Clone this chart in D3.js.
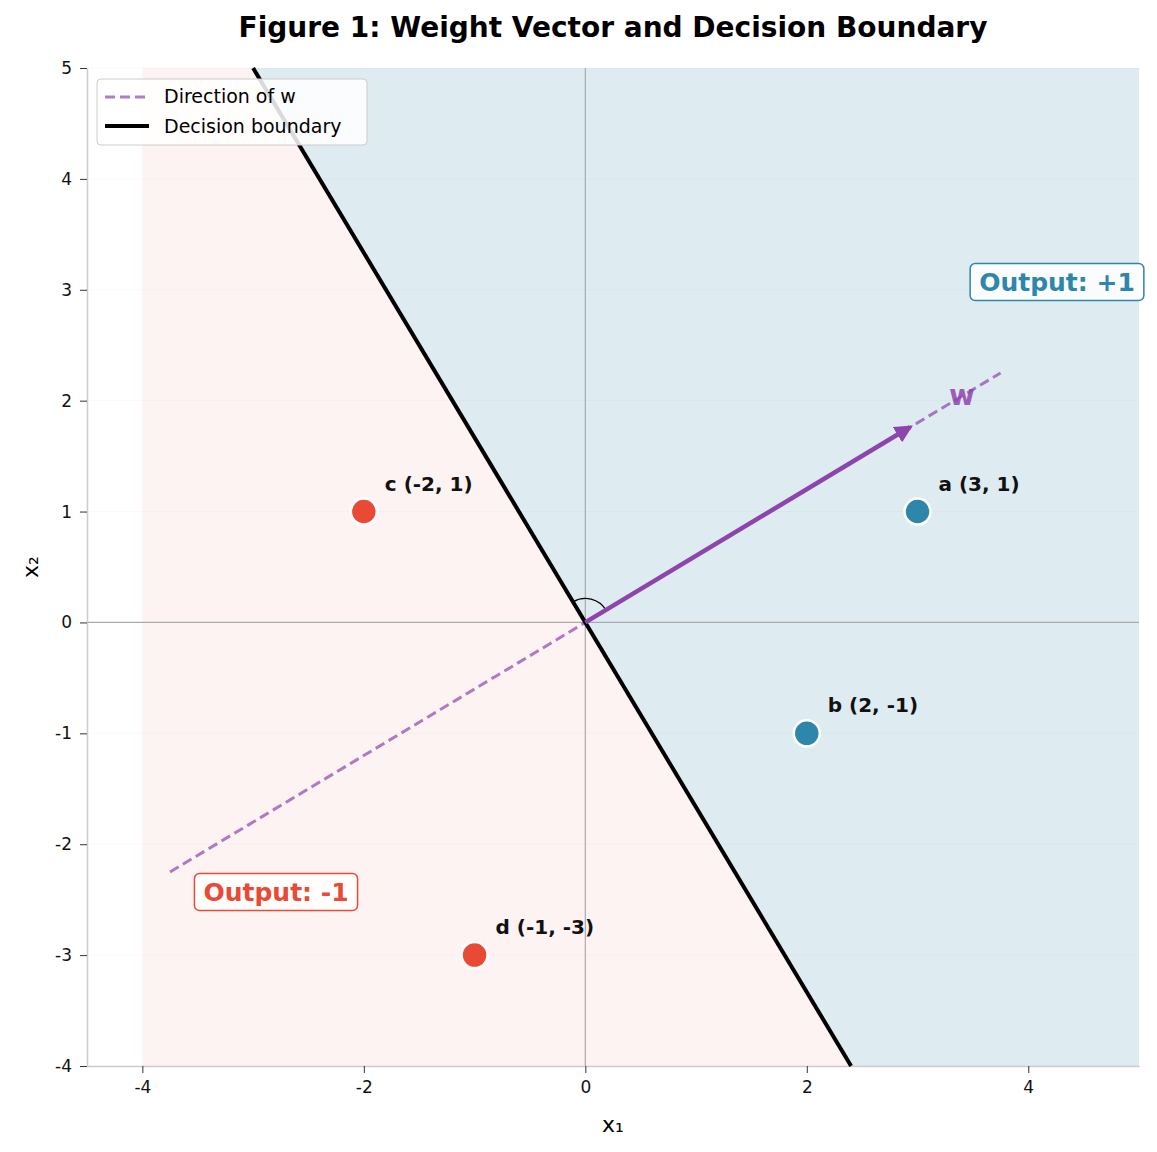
<!DOCTYPE html>
<html><head><meta charset="utf-8">
<script src="https://cdn.jsdelivr.net/npm/d3@7"></script>
<style>body{margin:0;background:#fff;font-family:"DejaVu Sans",sans-serif}</style>
</head><body><svg id="chart" width="1157" height="1152"></svg>
<script>
// data
const points = [
  {name: "a", x: 3, y: 1, cls: 1},
  {name: "b", x: 2, y: -1, cls: 1},
  {name: "c", x: -2, y: 1, cls: -1},
  {name: "d", x: -1, y: -3, cls: -1}
];
const wTip = [2.93, 1.76];
const wDir = [[-3.75, -2.25], [3.75, 2.25]];
const boundary = [[-3.0, 5], [2.4, -4]];
const xTicks = [-4, -2, 0, 2, 4];
const yTicks = [-4, -3, -2, -1, 0, 1, 2, 3, 4, 5];
const blue = "#2e86ab", red = "#e84a35", purple = "#8e44ad";

const svg = d3.select("#chart");
const x = d3.scaleLinear().domain([-4.5, 5]).range([87, 1139]);
const y = d3.scaleLinear().domain([-4, 5]).range([1066, 68]);

// regions
svg.append("polygon").attr("fill", "#fdf3f2")
  .attr("points", [[-4, 5], boundary[0], boundary[1], [-4, -4]].map(p => [x(p[0]), y(p[1])].join(",")).join(" "));
svg.append("polygon").attr("fill", "#deebf1")
  .attr("points", [boundary[0], [5, 5], [5, -4], boundary[1]].map(p => [x(p[0]), y(p[1])].join(",")).join(" "));
svg.append("g").selectAll("line").data(yTicks).join("line")
  .attr("x1", x(-4.5)).attr("x2", x(5)).attr("y1", d => y(d)).attr("y2", d => y(d))
  .attr("stroke", "#000").attr("stroke-opacity", 0.025);

// zero lines
svg.append("line").attr("x1", x(-4.5)).attr("x2", x(5)).attr("y1", y(0)).attr("y2", y(0)).attr("stroke", "#aaa").attr("stroke-width", 1.2);
svg.append("line").attr("x1", x(0)).attr("x2", x(0)).attr("y1", y(5)).attr("y2", y(-4)).attr("stroke", "#aaa").attr("stroke-width", 1.2);

// axes
const fmt = d => String(d);
const gx = svg.append("g").attr("transform", `translate(0,${y(-4)})`).call(d3.axisBottom(x).tickValues(xTicks).tickFormat(fmt).tickSize(7).tickPadding(8).tickSizeOuter(0));
const gy = svg.append("g").attr("transform", `translate(${x(-4.5)},0)`).call(d3.axisLeft(y).tickValues(yTicks).tickFormat(fmt).tickSize(7).tickPadding(8).tickSizeOuter(0));
[gx, gy].forEach(g => {
  g.attr("font-size", 17).attr("font-family", "DejaVu Sans");
  g.selectAll("text").attr("fill", "#111");
  g.select(".domain").attr("stroke", "#ccc").attr("stroke-width", 1.5);
  g.selectAll(".tick line").attr("stroke", "#333");
});

// direction of w
svg.append("line").attr("x1", x(wDir[0][0])).attr("y1", y(wDir[0][1])).attr("x2", x(wDir[1][0])).attr("y2", y(wDir[1][1]))
  .attr("stroke", purple).attr("stroke-opacity", 0.7).attr("stroke-width", 3).attr("stroke-dasharray", "10,5");
// boundary
svg.append("line").attr("x1", x(boundary[0][0])).attr("y1", y(boundary[0][1])).attr("x2", x(boundary[1][0])).attr("y2", y(boundary[1][1]))
  .attr("stroke", "#000").attr("stroke-width", 4);

// angle arc
const ang1 = Math.atan2(wTip[1], wTip[0]), ang2 = Math.atan2(boundary[0][1], boundary[0][0]);
const arc = d3.arc().innerRadius(24).outerRadius(24).startAngle(Math.PI / 2 - ang1).endAngle(Math.PI / 2 - ang2);
svg.append("path").attr("d", arc()).attr("transform", `translate(${x(0)},${y(0)})`).attr("fill", "none").attr("stroke", "#000").attr("stroke-width", 1.3);

// w arrow
svg.append("defs").append("marker").attr("id", "ah").attr("viewBox", "0 0 10 10").attr("refX", 8).attr("refY", 5)
  .attr("markerWidth", 4).attr("markerHeight", 4).attr("orient", "auto")
  .append("path").attr("d", "M0,0L10,5L0,10z").attr("fill", purple);
svg.append("line").attr("x1", x(0)).attr("y1", y(0)).attr("x2", x(wTip[0])).attr("y2", y(wTip[1]))
  .attr("stroke", purple).attr("stroke-width", 4.5).attr("marker-end", "url(#ah)");
svg.append("text").attr("x", x(3.4)).attr("y", y(2.03)).attr("text-anchor", "middle").attr("dominant-baseline", "middle")
  .attr("font-size", 28).attr("font-weight", "bold").attr("fill", purple).attr("fill-opacity", 0.85).text("w");

// points
svg.append("g").selectAll("circle").data(points).join("circle")
  .attr("cx", d => x(d.x)).attr("cy", d => y(d.y)).attr("r", 13)
  .attr("fill", d => d.cls > 0 ? blue : red).attr("stroke", "#fff").attr("stroke-width", 2.5);
svg.append("g").selectAll("text").data(points).join("text")
  .attr("x", d => x(d.x) + 21).attr("y", d => y(d.y) - 21)
  .attr("font-size", 20).attr("font-weight", "bold").attr("fill", "#111")
  .text(d => `${d.name} (${d.x}, ${d.y})`);

// output labels
function box(label, cx, cy, col) {
  const t = svg.append("text").attr("x", cx).attr("y", cy).attr("text-anchor", "middle").attr("dominant-baseline", "central")
    .attr("font-size", 25).attr("font-weight", "bold").attr("fill", col).text(label);
  const b = t.node().getBBox();
  svg.insert("rect", () => t.node()).attr("x", b.x - 9).attr("y", b.y - 4).attr("width", b.width + 18).attr("height", b.height + 8)
    .attr("rx", 5).attr("fill", "#fff").attr("fill-opacity", 0.85).attr("stroke", col).attr("stroke-width", 1.5);
}
box("Output: +1", 1057, 282, blue);
box("Output: -1", 276, 892, red);

// legend
const lg = svg.append("g").attr("transform", "translate(97,79)");
lg.append("rect").attr("width", 270).attr("height", 66).attr("rx", 4).attr("fill", "#fff").attr("fill-opacity", 0.85).attr("stroke", "#ccc");
lg.append("line").attr("x1", 8).attr("x2", 50).attr("y1", 18).attr("y2", 18).attr("stroke", purple).attr("stroke-opacity", 0.7).attr("stroke-width", 3).attr("stroke-dasharray", "10,5");
lg.append("line").attr("x1", 8).attr("x2", 52).attr("y1", 47).attr("y2", 47).attr("stroke", "#000").attr("stroke-width", 4);
lg.append("text").attr("x", 67).attr("y", 24).attr("font-size", 19).text("Direction of w");
lg.append("text").attr("x", 67).attr("y", 54).attr("font-size", 19).text("Decision boundary");

// titles
svg.append("text").attr("x", 613).attr("y", 37).attr("text-anchor", "middle").attr("font-size", 28).attr("font-weight", "bold").text("Figure 1: Weight Vector and Decision Boundary");
svg.append("text").attr("x", 613).attr("y", 1132).attr("text-anchor", "middle").attr("font-size", 22).text("x₁");
svg.append("text").attr("transform", `translate(38,${y(0.5)}) rotate(-90)`).attr("text-anchor", "middle").attr("font-size", 22).text("x₂");
</script></body></html>
